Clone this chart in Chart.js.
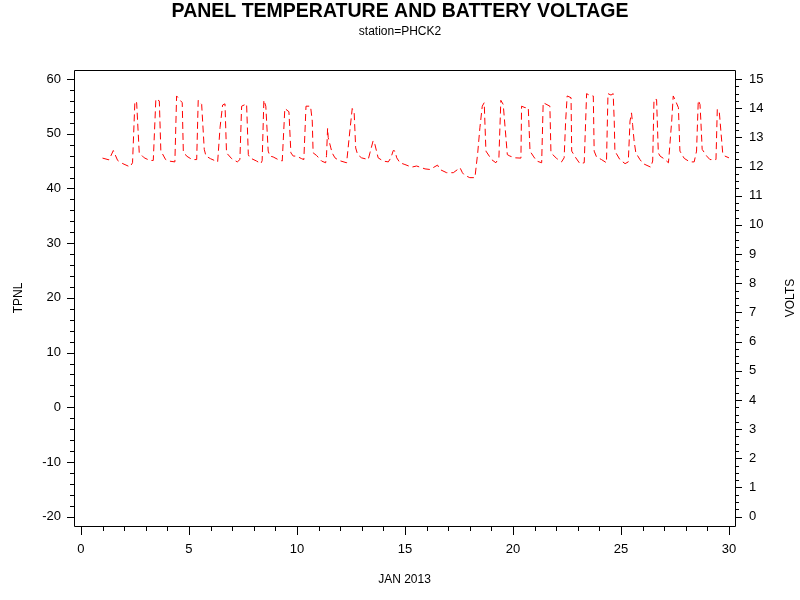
<!DOCTYPE html>
<html lang="en">
<head>
    <meta charset="utf-8">
    <script src="https://cdn.jsdelivr.net/npm/chart.js@4"></script>
    <style>
        html, body { margin: 0; padding: 0; background: #fff; }
        #wrap { width: 800px; height: 600px; }
    </style>
</head>
<body>
    <div id="wrap"><canvas id="chart" width="800" height="600"></canvas></div>

    <script>
        // day of month (JAN 2013) for each reading
        const days = [
            1.0, 1.3, 1.5, 1.7, 1.94, 2.27, 2.39, 2.5, 2.58, 2.7, 2.93,
            3.19, 3.35, 3.47, 3.63, 3.7, 3.92, 4.07,
            4.35, 4.43, 4.69, 4.74, 4.89, 5.15,
            5.36, 5.43, 5.59, 5.71, 5.79, 6.0,
            6.33, 6.44, 6.56, 6.67, 6.74, 6.98, 7.24,
            7.36, 7.44, 7.67, 7.75, 7.82, 8.13, 8.33,
            8.39, 8.47, 8.56, 8.67, 8.75, 8.9, 9.13, 9.32,
            9.44, 9.63, 9.72, 9.83, 9.98, 10.22, 10.32,
            10.42, 10.63, 10.71, 10.75, 10.91, 11.14, 11.33,
            11.37, 11.42, 11.45, 11.57, 11.63, 11.76, 11.94, 12.3,
            12.45, 12.56, 12.65, 12.72, 12.81, 12.99, 13.3,
            13.38, 13.53, 13.61, 13.76, 13.99, 14.23, 14.35, 14.46, 14.54, 14.62, 14.77,
            15.0, 15.31, 15.54, 15.93, 16.16, 16.51, 16.62, 16.93, 17.24, 17.55, 17.66, 17.75, 18.0,
            18.24, 18.37, 18.47, 18.58, 18.67, 18.7, 18.75, 19.01, 19.21,
            19.35, 19.44, 19.55, 19.74, 19.86, 20.09,
            20.37, 20.4, 20.56, 20.71, 20.79, 20.94, 21.1, 21.33,
            21.4, 21.71, 21.76, 22.02, 22.25,
            22.37, 22.44, 22.51, 22.69, 22.72, 22.91, 23.1,
            23.3, 23.41, 23.53, 23.72, 23.76, 23.87, 24.1,
            24.33, 24.4, 24.54, 24.64, 24.69, 24.72, 24.95, 25.19,
            25.34, 25.42, 25.49, 25.54, 25.61, 25.69, 25.88, 26.03, 26.38,
            26.47, 26.53, 26.65, 26.73, 26.81, 26.97, 27.2,
            27.35, 27.42, 27.5, 27.66, 27.73, 27.93, 28.19, 28.39,
            28.5, 28.58, 28.66, 28.7, 28.76, 28.97, 29.12,
            29.4, 29.46, 29.55, 29.71, 29.81, 30.0
        ];

        // battery voltage at each reading
        const volts = [
            12.29, 12.23, 12.55, 12.21, 12.10, 11.99, 12.13, 14.25, 14.19, 12.47, 12.30,
            12.21, 12.21, 14.32, 14.25, 12.54, 12.24, 12.19,
            12.16, 14.42, 14.19, 12.53, 12.36, 12.24,
            12.24, 14.27, 14.13, 12.59, 12.36, 12.27,
            12.16, 13.33, 14.11, 14.15, 12.47, 12.27, 12.16,
            12.24, 14.07, 14.15, 12.41, 12.30, 12.19, 12.10,
            12.20, 14.28, 14.07, 12.53, 12.36, 12.33, 12.24, 12.19,
            13.99, 13.88, 12.47, 12.36, 12.36, 12.27, 12.24,
            14.07, 14.07, 13.56, 12.47, 12.38, 12.19, 12.13,
            12.38, 13.31, 12.99, 12.64, 12.47, 12.30, 12.21, 12.13,
            13.22, 13.99, 13.84, 12.64, 12.41, 12.30, 12.24,
            12.47, 12.89, 12.76, 12.30, 12.19, 12.16, 12.30, 12.55, 12.53, 12.30, 12.13,
            12.07, 11.98, 12.02, 11.92, 11.90, 12.05, 11.90, 11.79, 11.79, 11.96, 11.79, 11.71, 11.62,
            11.62, 12.47, 13.33, 14.07, 14.19, 13.56, 12.53, 12.24, 12.13,
            12.30, 14.27, 14.13, 12.41, 12.36, 12.30,
            12.29, 14.07, 14.02, 14.02, 12.53, 12.36, 12.19, 12.13,
            14.19, 14.07, 12.47, 12.28, 12.16,
            12.30, 13.56, 14.42, 14.36, 12.53, 12.30, 12.10,
            12.13, 14.50, 14.45, 14.42, 12.53, 12.33, 12.24,
            12.13, 14.50, 14.45, 14.50, 13.56, 12.53, 12.24, 12.10,
            12.16, 13.56, 13.84, 13.44, 12.87, 12.47, 12.24, 12.10, 11.98,
            12.19, 14.30, 14.30, 12.47, 12.36, 12.28, 12.13,
            13.56, 14.42, 14.30, 14.02, 12.53, 12.28, 12.16, 12.16,
            12.53, 14.27, 14.13, 13.56, 12.59, 12.36, 12.24,
            12.24, 13.96, 13.90, 12.47, 12.36, 12.30
        ];

        // axis tick labels
        const xTicks = [0, 5, 10, 15, 20, 25, 30];
        const tpnlTicks = [-20, -10, 0, 10, 20, 30, 40, 50, 60];
        const voltTicks = [0, 1, 2, 3, 4, 5, 6, 7, 8, 9, 10, 11, 12, 13, 14, 15];

        const points = days.map((d, i) => ({ x: d, y: volts[i] }));

        Chart.defaults.font.family = "'Liberation Sans', Arial, sans-serif";
        Chart.defaults.color = '#000';

        // frame, major and minor tick marks, right-hand axis label
        const axisMarks = {
            id: 'axisMarks',
            afterDraw(chart) {
                const { ctx, chartArea: a, scales } = chart;
                ctx.save();
                ctx.strokeStyle = '#000';
                ctx.lineWidth = 1;
                ctx.beginPath();
                ctx.rect(Math.round(a.left) + 0.5, Math.round(a.top) + 0.5,
                         Math.round(a.right - a.left), Math.round(a.bottom - a.top));
                // bottom axis: minor every day
                for (let v = 0; v <= 30; v += 1) {
                    const p = Math.round(scales.x.getPixelForValue(v)) + 0.5;
                    const len = v % 5 === 0 ? 9 : 5;
                    ctx.moveTo(p, a.bottom);
                    ctx.lineTo(p, a.bottom + len);
                }
                // left axis: minor every 2
                for (let v = -20; v <= 60; v += 2) {
                    const p = Math.round(scales.y.getPixelForValue(v)) + 0.5;
                    const len = v % 10 === 0 ? 7 : 4;
                    ctx.moveTo(a.left, p);
                    ctx.lineTo(a.left - len, p);
                }
                // right axis: minor every 0.25
                for (let i = 0; i <= 60; i++) {
                    const v = i / 4;
                    const p = Math.round(scales.y2.getPixelForValue(v)) + 0.5;
                    const len = i % 4 === 0 ? 7 : 4;
                    ctx.moveTo(a.right, p);
                    ctx.lineTo(a.right + len, p);
                }
                ctx.stroke();

                ctx.fillStyle = '#000';
                ctx.font = "12px 'Liberation Sans', Arial, sans-serif";
                ctx.textAlign = 'center';
                ctx.textBaseline = 'middle';
                ctx.translate(791, (a.top + a.bottom) / 2);
                ctx.rotate(-Math.PI / 2);
                ctx.fillText('VOLTS', 0, 0);
                ctx.restore();
            }
        };

        new Chart(document.getElementById('chart'), {
            type: 'line',
            data: {
                datasets: [
                    {
                        label: 'TPNL',
                        data: [],
                        yAxisID: 'y',
                        borderColor: '#000',
                        borderWidth: 1,
                        pointRadius: 0
                    },
                    {
                        label: 'VOLTS',
                        data: points,
                        yAxisID: 'y2',
                        borderColor: '#ff0000',
                        borderWidth: 1,
                        borderDash: [7, 4],
                        pointRadius: 0,
                        tension: 0,
                        fill: false
                    }
                ]
            },
            options: {
                responsive: false,
                animation: false,
                devicePixelRatio: 1,
                layout: { padding: 0 },
                plugins: {
                    legend: { display: false },
                    tooltip: { enabled: false },
                    title: {
                        display: true,
                        text: 'PANEL TEMPERATURE AND BATTERY VOLTAGE',
                        font: { size: 19.5, weight: 'bold' },
                        color: '#000',
                        padding: { top: 0, bottom: 0 }
                    },
                    subtitle: {
                        display: true,
                        text: 'station=PHCK2',
                        font: { size: 12 },
                        color: '#000',
                        padding: { top: 1.5, bottom: 30.7 }
                    }
                },
                scales: {
                    x: {
                        type: 'linear',
                        min: -0.32,
                        max: 30.28,
                        grid: { display: false, drawTicks: false },
                        border: { display: false },
                        afterBuildTicks: s => { s.ticks = xTicks.map(v => ({ value: v })); },
                        afterFit: s => { s.height = 74; },
                        ticks: { padding: 16, font: { size: 13 }, maxRotation: 0 },
                        title: {
                            display: true,
                            text: 'JAN 2013',
                            font: { size: 12 },
                            padding: { top: 0, bottom: 13 }
                        }
                    },
                    y: {
                        position: 'left',
                        min: -21.7,
                        max: 61.65,
                        grid: { display: false, drawTicks: false },
                        border: { display: false },
                        afterBuildTicks: s => { s.ticks = tpnlTicks.map(v => ({ value: v })); },
                        afterFit: s => { s.width = 74; },
                        ticks: { padding: 13, font: { size: 13 } },
                        title: {
                            display: true,
                            text: 'TPNL',
                            font: { size: 12 },
                            padding: { top: 11, bottom: 0 }
                        }
                    },
                    y2: {
                        position: 'right',
                        min: -0.32,
                        max: 15.31,
                        grid: { display: false, drawTicks: false },
                        border: { display: false },
                        afterBuildTicks: s => { s.ticks = voltTicks.map(v => ({ value: v })); },
                        afterFit: s => { s.width = 65; },
                        ticks: { padding: 14, font: { size: 13 } },
                        title: { display: false }
                    }
                }
            },
            plugins: [axisMarks]
        });
    </script>
</body>
</html>
